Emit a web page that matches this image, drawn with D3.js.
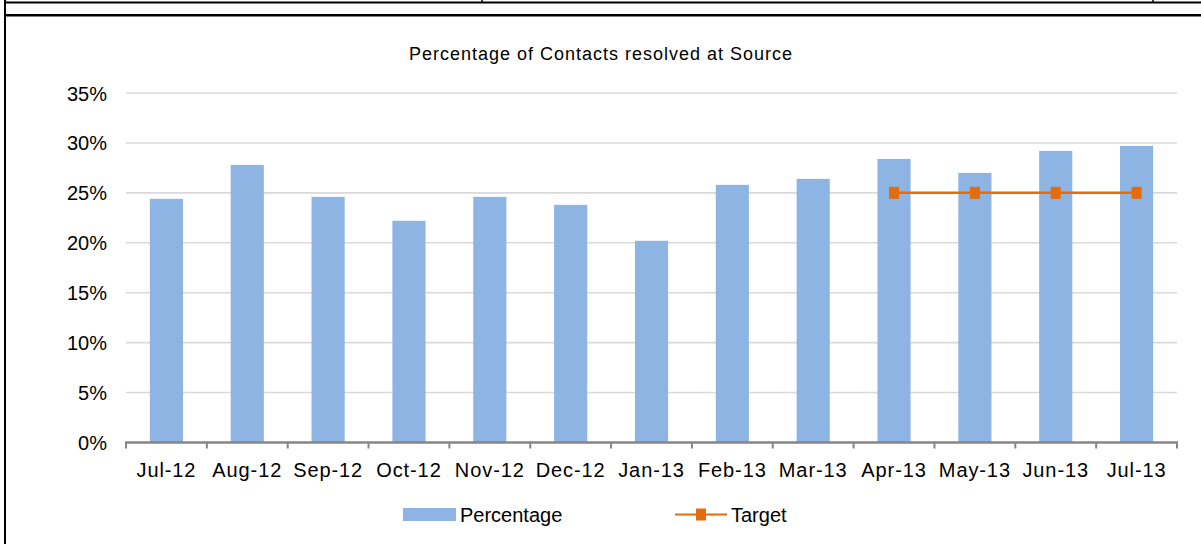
<!DOCTYPE html>
<html>
<head>
<meta charset="utf-8">
<script src="https://cdn.jsdelivr.net/npm/d3@7"></script>
<style>
  body { margin: 0; background: #fff; }
  text { font-family: "Liberation Sans", Arial, sans-serif; fill: #000; }
</style>
</head>
<body>
<div id="chart"></div>
<script>

// data
var months = ["Jul-12", "Aug-12", "Sep-12", "Oct-12", "Nov-12", "Dec-12", "Jan-13",
              "Feb-13", "Mar-13", "Apr-13", "May-13", "Jun-13", "Jul-13"];
var percentage = [0.244, 0.278, 0.246, 0.222, 0.246, 0.238, 0.202,
                  0.258, 0.264, 0.284, 0.270, 0.292, 0.297];
var targetMonths = ["Apr-13", "May-13", "Jun-13", "Jul-13"];
var target = [0.25, 0.25, 0.25, 0.25];
var yTicks = [0, 0.05, 0.10, 0.15, 0.20, 0.25, 0.30, 0.35];

var barColor = "#8EB4E3",
    lineColor = "#E46C0A";

var svg = d3.select("#chart")
  .append("svg")
  .attr("width", 1201)
  .attr("height", 544);

// page border lines (table cell the chart sits in)
svg.append("line").attr("x1", 5).attr("x2", 5).attr("y1", 0).attr("y2", 544)
  .style("stroke", "#000").style("stroke-width", 2);
svg.append("line").attr("x1", 4).attr("x2", 1201).attr("y1", 2.5).attr("y2", 2.5)
  .style("stroke", "#000").style("stroke-width", 2);
svg.append("line").attr("x1", 4).attr("x2", 1201).attr("y1", 15.3).attr("y2", 15.3)
  .style("stroke", "#000").style("stroke-width", 2.6);
[482, 1153].forEach(function(x) {
  svg.append("line").attr("x1", x).attr("x2", x).attr("y1", 0).attr("y2", 3)
    .style("stroke", "#000").style("stroke-width", 1.5);
});

// scales
var xScale = d3.scaleBand()
  .domain(months)
  .range([126, 1177])
  .paddingInner(0.59)
  .paddingOuter(0.295);

var yScale = d3.scaleLinear()
  .domain([0, 0.35])
  .range([442.5, 93]);

// gridlines
svg.append("g")
  .selectAll("line")
  .data(yTicks.slice(1))
  .enter()
  .append("line")
  .attr("x1", 126)
  .attr("x2", 1177)
  .attr("y1", function(d) {return yScale(d);})
  .attr("y2", function(d) {return yScale(d);})
  .style("stroke", "#D9D9D9")
  .style("stroke-width", 1.6);

// y labels
var yAxis = d3.axisLeft(yScale)
  .tickValues(yTicks)
  .tickFormat(d3.format(".0%"))
  .tickSize(0)
  .tickPadding(0);

var yG = svg.append("g")
  .attr("transform", "translate(107,0)")
  .call(yAxis);
yG.select(".domain").remove();
yG.selectAll("text")
  .attr("dy", "0.35em")
  .style("font-size", "20px")
  .style("font-family", "'Liberation Sans', Arial, sans-serif")
  .style("fill", "#000");

// bars
svg.selectAll(".bar")
  .data(percentage)
  .enter()
  .append("rect")
  .attr("class", "bar")
  .attr("x", function(d, i) {return xScale(months[i]);})
  .attr("width", xScale.bandwidth())
  .attr("y", function(d) {return yScale(d);})
  .attr("height", function(d) {return yScale(0) - yScale(d);})
  .style("fill", barColor);

// x axis line with ticks at category edges
var step = xScale.step();
var edges = d3.range(months.length + 1).map(function(i) {return 126 + i * step;});
svg.append("line")
  .attr("x1", 125).attr("x2", 1178)
  .attr("y1", yScale(0)).attr("y2", yScale(0))
  .style("stroke", "#868686").style("stroke-width", 2.4);
svg.append("g")
  .selectAll("line")
  .data(edges)
  .enter()
  .append("line")
  .attr("x1", function(d) {return d;})
  .attr("x2", function(d) {return d;})
  .attr("y1", yScale(0))
  .attr("y2", yScale(0) + 6)
  .style("stroke", "#868686").style("stroke-width", 2);

// x labels
svg.append("g")
  .selectAll("text")
  .data(months)
  .enter()
  .append("text")
  .attr("x", function(d) {return xScale(d) + xScale.bandwidth() / 2;})
  .attr("y", 477)
  .attr("text-anchor", "middle")
  .style("font-size", "20px")
  .style("letter-spacing", "0.9px")
  .text(function(d) {return d;});

// target line
var line = d3.line()
  .x(function(d, i) {return xScale(targetMonths[i]) + xScale.bandwidth() / 2;})
  .y(function(d) {return yScale(d);});

svg.append("path")
  .datum(target)
  .attr("d", line)
  .style("fill", "none")
  .style("stroke", lineColor)
  .style("stroke-width", 2.5);

svg.selectAll(".marker")
  .data(target)
  .enter()
  .append("rect")
  .attr("class", "marker")
  .attr("x", function(d, i) {return xScale(targetMonths[i]) + xScale.bandwidth() / 2 - 5;})
  .attr("y", function(d) {return yScale(d) - 6;})
  .attr("width", 10)
  .attr("height", 12)
  .style("fill", lineColor);

// title
svg.append("text")
  .attr("x", 601)
  .attr("y", 60)
  .attr("text-anchor", "middle")
  .style("font-size", "18px")
  .style("letter-spacing", "1px")
  .text("Percentage of Contacts resolved at Source");

// legend
var legend = svg.append("g");
legend.append("rect")
  .attr("x", 403).attr("y", 508)
  .attr("width", 53).attr("height", 13)
  .style("fill", barColor);
legend.append("text")
  .attr("x", 460).attr("y", 521.5)
  .style("font-size", "20px")
  .text("Percentage");
legend.append("line")
  .attr("x1", 675).attr("x2", 727)
  .attr("y1", 514.5).attr("y2", 514.5)
  .style("stroke", lineColor).style("stroke-width", 2);
legend.append("rect")
  .attr("x", 696).attr("y", 508.5)
  .attr("width", 10).attr("height", 12)
  .style("fill", lineColor);
legend.append("text")
  .attr("x", 731).attr("y", 521.5)
  .style("font-size", "20px")
  .text("Target");

</script>
</body>
</html>
